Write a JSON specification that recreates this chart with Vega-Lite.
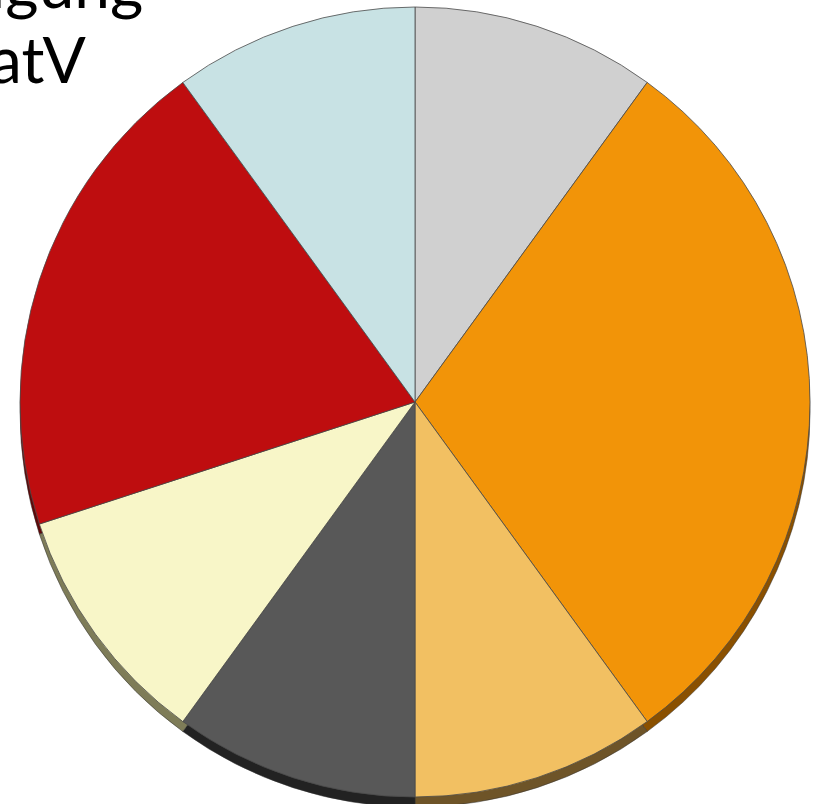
{
  "$schema": "https://vega.github.io/schema/vega-lite/v6.json",
  "width": 830,
  "height": 804,
  "padding": 0,
  "autosize": {"type": "none"},
  "background": "white",
  "config": {"view": {"stroke": null}},
  "layer": [
    {
      "data": {
        "values": [
          {"segment": "A", "value": 1, "order": 1},
          {"segment": "B", "value": 3, "order": 2},
          {"segment": "C", "value": 1, "order": 3},
          {"segment": "D", "value": 1, "order": 4},
          {"segment": "E", "value": 1, "order": 5},
          {"segment": "F", "value": 2, "order": 6},
          {"segment": "G", "value": 1, "order": 7}
        ]
      },
      "layer": [
        {
          "mark": {"type": "arc", "radius": 395, "yOffset": 10, "stroke": "#333333", "strokeWidth": 0.5},
          "encoding": {
            "theta": {"field": "value", "type": "quantitative", "stack": true},
            "order": {"field": "order", "type": "quantitative"},
            "color": {
              "field": "segment",
              "type": "nominal",
              "legend": null,
              "scale": {
                "domain": ["A", "B", "C", "D", "E", "F", "G"],
                "range": ["#8a8a8a", "#8a5000", "#6e5428", "#222222", "#7e7c58", "#600808", "#7a9090"]
              }
            }
          }
        },
        {
          "mark": {"type": "arc", "radius": 395, "stroke": "#4a4a4a", "strokeWidth": 0.8},
          "encoding": {
            "theta": {"field": "value", "type": "quantitative", "stack": true},
            "order": {"field": "order", "type": "quantitative"},
            "color": {
              "field": "segment",
              "type": "nominal",
              "legend": null,
              "scale": {
                "domain": ["A", "B", "C", "D", "E", "F", "G"],
                "range": ["#d0d0d0", "#f29408", "#f2c062", "#585858", "#f8f6c8", "#be0d0f", "#c8e2e4"]
              }
            }
          }
        }
      ],
      "resolve": {"scale": {"color": "independent"}}
    },
    {
      "data": {"values": [{"label": "igung\natV"}]},
      "mark": {
        "type": "text",
        "x": -10,
        "y": 8,
        "align": "left",
        "baseline": "alphabetic",
        "lineBreak": "\n",
        "lineHeight": 75,
        "font": "Lato",
        "fontSize": 64,
        "color": "#000000"
      },
      "encoding": {"text": {"field": "label", "type": "nominal"}}
    }
  ]
}
